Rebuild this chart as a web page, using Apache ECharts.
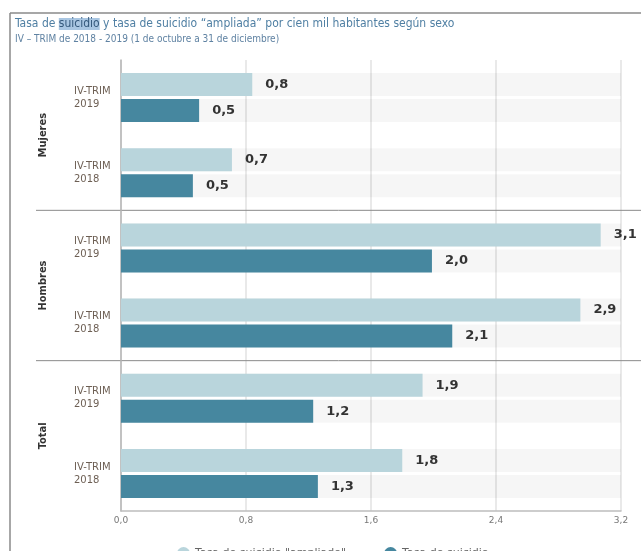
<!DOCTYPE html>
<html>
<head>
<meta charset="utf-8">
<script src="https://cdn.jsdelivr.net/npm/echarts@6/dist/echarts.min.js"></script>
<style>html,body{margin:0;padding:0;background:#fff;}#c{width:641px;height:551px;}</style>
</head>
<body>
<div id="c"></div>
<script>
// ---- data ----
const categories = ['IV-TRIM\n2019', 'IV-TRIM\n2018', 'IV-TRIM\n2019', 'IV-TRIM\n2018', 'IV-TRIM\n2019', 'IV-TRIM\n2018'];
const groups = ['Mujeres', 'Hombres', 'Total'];
const seriesNames = ['Tasa de suicidio "ampliado"', 'Tasa de suicidio'];
const tasaAmpliada = [0.84, 0.71, 3.07, 2.94, 1.93, 1.80];
const tasaSuicidio = [0.50, 0.46, 1.99, 2.12, 1.23, 1.26];
const xTicks = [0, 0.8, 1.6, 2.4, 3.2];

const fmt = v => v.toFixed(1).replace('.', ',');
const NARROW = "'DejaVu Sans Condensed', 'Liberation Sans', sans-serif";
const chart = echarts.init(document.getElementById('c'), null, {renderer: 'canvas'});

const labelStyle = {
  show: true, position: 'right', distance: 13,
  formatter: p => fmt(p.value),
  fontFamily: 'DejaVu Sans', fontWeight: 'bold', fontSize: 13, color: '#333'
};

const option = {
  animation: false,
  backgroundColor: '#fff',
  title: {
    left: 10, top: 13, itemGap: 4,
    text: 'Tasa de {h|suicidio} y tasa de suicidio “ampliada” por cien mil habitantes según sexo',
    textStyle: {
      fontFamily: NARROW, fontSize: 12, fontWeight: 'normal', color: '#4f7fa3',
      rich: { h: { fontFamily: NARROW, fontSize: 12, color: '#35597c', backgroundColor: '#a9c6e2' } }
    },
    subtext: 'IV – TRIM de 2018 - 2019 (1 de octubre a 31 de diciembre)',
    subtextStyle: { fontFamily: NARROW, fontSize: 10, color: '#5f82a2' }
  },
  legend: {
    top: 542, left: 172, itemGap: 38, itemWidth: 13, itemHeight: 13,
    icon: 'circle',
    data: seriesNames,
    textStyle: { fontFamily: 'DejaVu Sans', fontSize: 11, color: '#666' }
  },
  grid: { left: 121, right: 20, top: 60, bottom: 40 },
  xAxis: {
    type: 'value', min: xTicks[0], max: xTicks[xTicks.length - 1], interval: 0.8,
    axisLine: { show: true, lineStyle: { color: '#bdbdbd', width: 1.5 } },
    axisTick: { show: false },
    splitLine: { show: true, lineStyle: { color: '#e2e2e2', width: 1.5 } },
    axisLabel: { formatter: v => fmt(v), fontFamily: 'DejaVu Sans', fontSize: 9, color: '#777', margin: 5 }
  },
  yAxis: [
    {
      type: 'category', inverse: true, data: categories,
      axisLine: { show: true, lineStyle: { color: '#b5b5b5', width: 1.5 } },
      axisTick: { show: false },
      axisLabel: { align: 'left', margin: 47, fontFamily: 'DejaVu Sans', fontSize: 10, color: '#6d5f54', lineHeight: 13 }
    },
    {
      type: 'category', inverse: true, data: groups, position: 'left', offset: 72,
      axisLine: { show: false }, axisTick: { show: false },
      axisLabel: { rotate: 90, margin: 0, fontFamily: NARROW, fontWeight: 'bold', fontSize: 11, color: '#333' }
    }
  ],
  series: [
    {
      name: seriesNames[0], type: 'bar', yAxisIndex: 0, data: tasaAmpliada,
      barWidth: 23, barGap: '13%',
      itemStyle: { color: '#b9d5dc' },
      showBackground: true, backgroundStyle: { color: 'rgba(0,0,0,0.035)' },
      label: labelStyle
    },
    {
      name: seriesNames[1], type: 'bar', yAxisIndex: 0, data: tasaSuicidio,
      barWidth: 23, barGap: '13%',
      itemStyle: { color: '#46879f' },
      showBackground: true, backgroundStyle: { color: 'rgba(0,0,0,0.035)' },
      label: labelStyle
    }
  ]
};
chart.setOption(option);

// decorations: frame and group separators placed from axis scale
const py = i => chart.convertToPixel({ yAxisIndex: 0 }, i);
const sep1 = (py(1) + py(2)) / 2;
const sep2 = (py(3) + py(4)) / 2;
chart.setOption({
  graphic: [
    { type: 'line', shape: { x1: 10, y1: 13, x2: 641, y2: 13 }, style: { stroke: '#8a8a8a', lineWidth: 1.5 }, silent: true },
    { type: 'line', shape: { x1: 10, y1: 13, x2: 10, y2: 551 }, style: { stroke: '#8a8a8a', lineWidth: 1.5 }, silent: true },
    { type: 'line', shape: { x1: 36, y1: sep1, x2: 641, y2: sep1 }, style: { stroke: '#8a8a8a', lineWidth: 1 }, silent: true },
    { type: 'line', shape: { x1: 36, y1: sep2, x2: 641, y2: sep2 }, style: { stroke: '#8a8a8a', lineWidth: 1 }, silent: true }
  ]
});
</script>
</body>
</html>
